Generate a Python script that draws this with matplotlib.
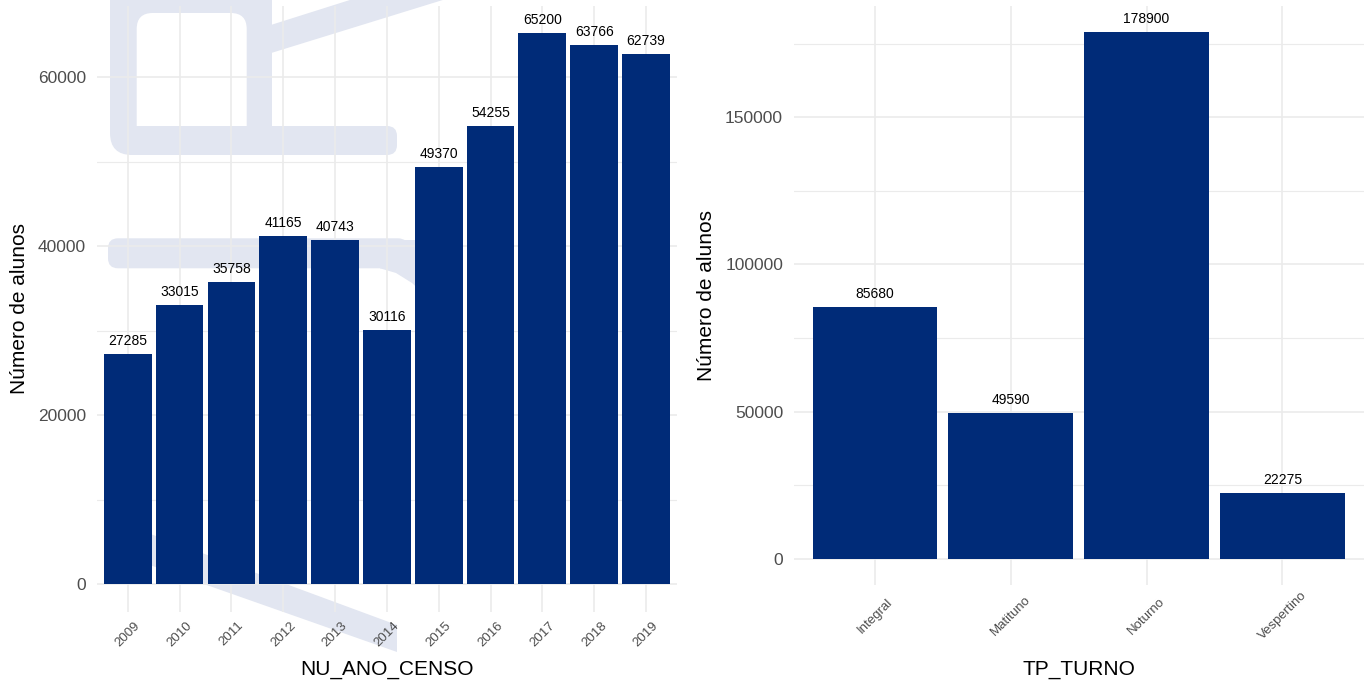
import matplotlib
matplotlib.use('Agg')
import matplotlib.pyplot as plt
from matplotlib.patches import FancyBboxPatch, Polygon
from matplotlib.transforms import Affine2D

# ---------------- data ----------------
anos = ['2009', '2010', '2011', '2012', '2013', '2014',
        '2015', '2016', '2017', '2018', '2019']
alunos_ano = [27285, 33015, 35758, 41165, 40743, 30116,
              49370, 54255, 65200, 63766, 62739]

turnos = ['Integral', 'Matituno', 'Noturno', 'Vespertino']
alunos_turno = [85680, 49590, 178900, 22275]

# ---------------- style ----------------
plt.rcParams['font.family'] = ['Liberation Sans', 'DejaVu Sans']
BAR = '#002B78'
GRID = '#EBEBEB'
TICK = '#4D4D4D'
WM = '#E2E6F1'

W, H = 1371, 684
fig = plt.figure(figsize=(W / 100, H / 100), dpi=100)
fig.patch.set_facecolor('white')

# ---------------- background watermark (decorative) ----------------
px = Affine2D().scale(1 / W, -1 / H).translate(0, 1) + fig.transFigure


def add_wm(p, z=-5):
    p.set_transform(px)
    p.set_zorder(z)
    p.set_linewidth(0)
    fig.add_artist(p)


add_wm(FancyBboxPatch((110, -40), 162, 195, boxstyle='round,pad=0,rounding_size=22', fc=WM))
add_wm(FancyBboxPatch((136.7, 13), 110, 130, boxstyle='round,pad=0,rounding_size=16', fc='white'), -4)
add_wm(FancyBboxPatch((125, 126), 272, 29, boxstyle='round,pad=0,rounding_size=10', fc=WM), -3)
add_wm(Polygon([(255, 30), (353, -1), (446, -1), (255, 58)], closed=True, fc=WM))
add_wm(FancyBboxPatch((108, 238.3), 300, 30, boxstyle='round,pad=0,rounding_size=10', fc=WM))
add_wm(Polygon([(380, 240), (425, 240), (425, 295), (412, 283), (396, 273), (380, 268.3)],
               closed=True, fc=WM))
add_wm(Polygon([(110, 519), (397, 625), (397, 652), (110, 551)], closed=True, fc=WM))


# ---------------- axes ----------------
def style_axis(ax, ymajor, yminor, ylim, n, tick_pad_x):
    ax.set_facecolor('none')
    for s in ax.spines.values():
        s.set_visible(False)
    ax.set_xlim(-0.6, n - 1 + 0.6)
    ax.set_ylim(*ylim)
    ax.set_yticks(ymajor)
    ax.set_yticks(yminor, minor=True)
    ax.set_yticklabels([str(v) for v in ymajor])
    ax.grid(True, which='major', color=GRID, linewidth=1.2, zorder=0)
    ax.grid(True, which='minor', axis='y', color=GRID, linewidth=0.8, zorder=0)
    ax.set_axisbelow(True)
    ax.tick_params(axis='both', which='both', length=0)
    ax.tick_params(axis='y', labelsize=12.5, labelcolor=TICK, pad=7.5)
    ax.tick_params(axis='x', labelsize=9.5, labelcolor=TICK, pad=tick_pad_x)
    for lab in ax.get_xticklabels():
        lab.set_rotation(45)
        lab.set_rotation_mode('anchor')
        lab.set_ha('center')
        lab.set_va('center')


def draw_bars(ax, cats, vals):
    x = list(range(len(cats)))
    ax.bar(x, vals, width=0.92, color=BAR, zorder=2)
    ax.set_xticks(x)
    ax.set_xticklabels(cats)
    for xi, v in zip(x, vals):
        ax.annotate(str(v), (xi, v), xytext=(0, 6.5), textcoords='offset points',
                    ha='center', va='baseline', fontsize=10, color='black', zorder=3)


# left panel
ax1 = fig.add_axes([96.6 / W, 1 - 611.8 / H, (677.1 - 96.6) / W, (611.8 - 5.8) / H])
draw_bars(ax1, anos, alunos_ano)
style_axis(ax1, [0, 20000, 40000, 60000], [10000, 30000, 50000],
           (-3260, 68460), len(anos), 16)
ax1.set_xlabel('NU_ANO_CENSO', fontsize=15, color='black')
ax1.set_ylabel('Número de alunos', fontsize=15, color='black')
ax1.yaxis.set_label_coords((19 - 96.6) / (677.1 - 96.6), 0.5)
ax1.yaxis.label.set_va('center')
ax1.xaxis.set_label_coords(0.5, (611.8 - 675) / (611.8 - 5.8))
ax1.xaxis.label.set_va('baseline')

# right panel
ax2 = fig.add_axes([793.5 / W, 1 - 585 / H, (1363.8 - 793.5) / W, (585 - 6) / H])
draw_bars(ax2, turnos, alunos_turno)
style_axis(ax2, [0, 50000, 100000, 150000], [25000, 75000, 125000, 175000],
           (-8945, 187845), len(turnos), 22.3)
ax2.set_xlabel('TP_TURNO', fontsize=15, color='black')
ax2.set_ylabel('Número de alunos', fontsize=15, color='black')
ax2.yaxis.set_label_coords((707 - 793.5) / (1363.8 - 793.5), 0.5)
ax2.yaxis.label.set_va('center')
ax2.xaxis.set_label_coords(0.5, (585 - 675) / (585 - 6))
ax2.xaxis.label.set_va('baseline')

fig.savefig('out.png', dpi=100, facecolor='white')
